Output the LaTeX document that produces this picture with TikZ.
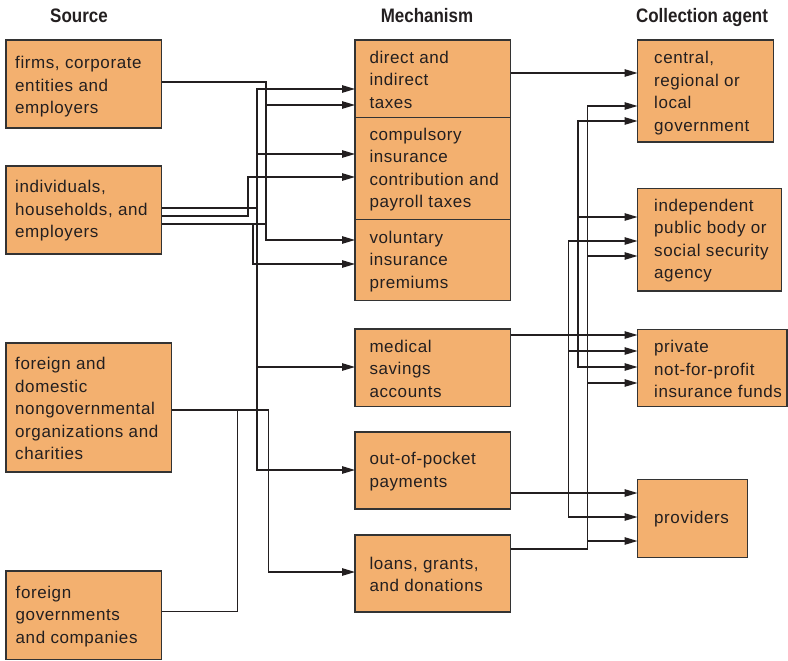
\documentclass[tikz,border=0pt]{standalone}
\usepackage{fontspec}
\setmainfont{Liberation Sans}
\newfontfamily\bodyfont{Liberation Sans}[LetterSpace=3.5]
\newfontfamily\headfont{Liberation Sans Bold}[FakeStretch=0.87]
\usetikzlibrary{arrows.meta}
\definecolor{boxfill}{RGB}{243,176,111}
\definecolor{ink}{RGB}{35,31,32}
\definecolor{edge}{RGB}{51,51,51}

\begin{document}
\begin{tikzpicture}[x=1pt,y=-1pt,
  box/.style={draw=edge, fill=boxfill, line width=1.2pt, anchor=north west,
              inner sep=0pt, outer sep=0pt},
  lbl/.style={anchor=west, align=left, inner sep=0pt, text=ink, yshift=-1pt,
              font=\bodyfont\fontsize{17}{22.5}\selectfont},
  head/.style={anchor=base, inner sep=0pt, text=ink,
               font=\headfont\fontsize{19.5}{22}\selectfont},
  wire/.style={draw=ink, line width=1.2pt},
  tip/.tip={Triangle[length=13pt,width=7.5pt]},
  arr/.style={wire, -tip},
  rarr/.style={wire, tip-},
  darr/.style={wire, tip-tip},
]
\useasboundingbox (0,0) rectangle (788,661);

% column headings
\node[head] (hsrc)  at (79,23)  {Source};
\node[head] (hmech) at (427,23) {Mechanism};
\node[head] (hagt)  at (702,23) {Collection agent};

% sources
\node[box, minimum width=155.7pt, minimum height=88pt]   (firms)  at (6,40)  {};
\node[box, minimum width=155.7pt, minimum height=88pt]   (indiv)  at (6,166) {};
\node[box, minimum width=165.7pt, minimum height=129pt]  (ngo)    at (6,343) {};
\node[box, minimum width=155.7pt, minimum height=88.3pt] (forgov) at (6,571) {};

\node[lbl] (firms-t)  at ([xshift=9pt,yshift=-2pt]firms.west)  {firms, corporate\\entities and\\employers};
\node[lbl] (indiv-t)  at ([xshift=9pt]indiv.west)  {individuals,\\households, and\\employers};
\node[lbl] (ngo-t)    at ([xshift=9pt]ngo.west)    {foreign and\\domestic\\nongovernmental\\organizations and\\charities};
\node[lbl] (forgov-t) at ([xshift=9.5pt]forgov.west) {foreign\\governments\\and companies};

% mechanisms
\node[box, minimum width=155.7pt, minimum height=77.3pt]  (tax)  at (355,40)    {};
\node[box, minimum width=155.7pt, minimum height=102.4pt] (comp) at (355,117.3) {};
\node[box, minimum width=155.7pt, minimum height=81pt]    (vol)  at (355,219.7) {};
\node[box, minimum width=155.7pt, minimum height=77.7pt]  (med)  at (355,329)   {};
\node[box, minimum width=155.7pt, minimum height=77pt]    (oop)  at (355,432)   {};
\node[box, minimum width=155.7pt, minimum height=77pt]    (loan) at (355,535)   {};

\node[lbl] (tax-t)  at ([xshift=14.3pt]tax.west)  {direct and\\indirect\\taxes};
\node[lbl] (comp-t) at ([xshift=14.3pt]comp.west) {compulsory\\insurance\\contribution and\\payroll taxes};
\node[lbl] (vol-t)  at ([xshift=14.3pt]vol.west)  {voluntary\\insurance\\premiums};
\node[lbl] (med-t)  at ([xshift=14.3pt]med.west)  {medical\\savings\\accounts};
\node[lbl] (oop-t)  at ([xshift=14.3pt]oop.west)  {out-of-pocket\\payments};
\node[lbl] (loan-t) at ([xshift=14.3pt]loan.west) {loans, grants,\\and donations};

% collection agents
\node[box, minimum width=135.8pt, minimum height=102pt]   (central) at (637.5,40)    {};
\node[box, minimum width=144.2pt, minimum height=102.7pt] (indep)   at (637.5,188.3) {};
\node[box, minimum width=149.5pt, minimum height=77.4pt]  (priv)    at (637.5,329.3) {};
\node[box, minimum width=109.8pt, minimum height=78pt]    (prov)    at (637.5,479.3) {};

\node[lbl] (central-t) at ([xshift=16.5pt,yshift=-1pt]central.west) {central,\\regional or\\local\\government};
\node[lbl] (indep-t)   at ([xshift=16.5pt]indep.west)   {independent\\public body or\\social security\\agency};
\node[lbl] (priv-t)    at ([xshift=16.5pt]priv.west)    {private\\not-for-profit\\insurance funds};
\node[lbl] (prov-t)    at ([xshift=16.5pt]prov.west)    {providers};

% ---- source to mechanism routing ----
% firms
\coordinate (fa) at (266,82);
\coordinate (fb) at (266,240);
\coordinate (fc) at (266,105);
\draw[arr] (firms.east |- fa) -- (fa) -- (fb) -- (vol.west |- fb);
\draw[arr] (fc) -- (tax.west |- fc);

% individuals: main bus
\coordinate (ia) at (257,89);
\coordinate (ib) at (257,470);
\coordinate (ic) at (257,154);
\coordinate (id) at (257,367);
\coordinate (ie) at (257,208);
\draw[darr] (tax.west |- ia) -- (ia) -- (ib) -- (oop.west |- ib);
\draw[wire] (indiv.east |- ie) -- (ie);
\draw[arr] (ic) -- (comp.west |- ic);
\draw[arr] (id) -- (med.west |- id);

% individuals: to compulsory insurance
\coordinate (ja) at (248,216);
\coordinate (jb) at (248,177);
\draw[arr] (indiv.east |- ja) -- (ja) -- (jb) -- (comp.west |- jb);

% individuals: to voluntary premiums
\coordinate (ka) at (266,224);
\coordinate (kb) at (253,224);
\coordinate (kc) at (253,264);
\draw[wire] (indiv.east |- ka) -- (ka);
\draw[arr] (kb) -- (kc) -- (vol.west |- kc);

% foreign and domestic NGOs, foreign governments
\coordinate (na) at (268.3,410);
\coordinate (nb) at (268.3,572);
\draw[arr] (ngo.east |- na) -- (na) -- (nb) -- (loan.west |- nb);
\coordinate (ga) at (237.3,611.7);
\coordinate (gb) at (237.3,410);
\draw[wire] (forgov.east |- ga) -- (ga) -- (gb);

% ---- mechanism to collection agent routing ----
\coordinate (ta) at (510,73);
\draw[arr] (tax.east |- ta) -- (central.west |- ta);

% bus fed by loans
\coordinate (pa) at (587.3,106);
\coordinate (pb) at (587.3,549);
\coordinate (pc) at (587.3,256);
\coordinate (pd) at (587.3,383);
\coordinate (pe) at (587.3,541);
\draw[rarr] (central.west |- pa) -- (pa) -- (pb) -- (loan.east |- pb);
\draw[arr] (pc) -- (indep.west |- pc);
\draw[arr] (pd) -- (priv.west |- pd);
\draw[arr] (pe) -- (prov.west |- pe);

% bus fed by medical savings accounts
\coordinate (qa) at (578,121);
\coordinate (qb) at (578,367);
\coordinate (qc) at (578,217);
\draw[darr] (central.west |- qa) -- (qa) -- (qb) -- (priv.west |- qb);
\draw[arr] (qc) -- (indep.west |- qc);
\coordinate (ma) at (510,335);
\draw[arr] (med.east |- ma) -- (priv.west |- ma);

% bus fed by out-of-pocket payments
\coordinate (ra) at (568.3,241);
\coordinate (rb) at (568.3,517);
\coordinate (rc) at (568.3,351);
\draw[darr] (indep.west |- ra) -- (ra) -- (rb) -- (prov.west |- rb);
\draw[arr] (rc) -- (priv.west |- rc);
\coordinate (oa) at (510,493);
\draw[arr] (oop.east |- oa) -- (prov.west |- oa);

\end{tikzpicture}
\end{document}
